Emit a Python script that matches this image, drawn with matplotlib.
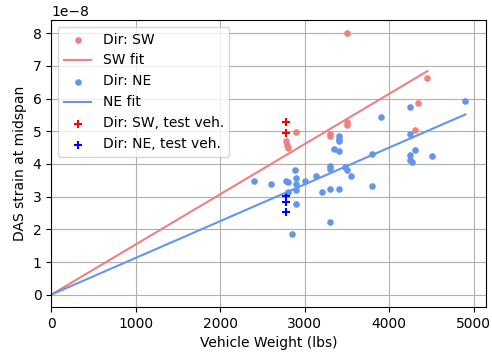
import numpy as np
import matplotlib
matplotlib.use("Agg")
import matplotlib.pyplot as plt

# ---------------------------------------------------------------------------
# Data (weights in lbs, strain in units of 1e-8)
# ---------------------------------------------------------------------------
sw_weight = [2900, 2780, 2790, 2800, 3300, 3300, 3500, 3500, 3500, 4340, 4450, 4300]
sw_strain = [4.99, 4.70, 4.58, 4.50, 4.93, 4.86, 5.29, 5.19, 8.00, 5.87, 6.62, 5.04]

ne_weight = [2400, 2600, 2775, 2800, 2800, 2850, 2890, 2900, 2900, 2900, 2900,
             3000, 3130, 3200, 3300, 3300, 3300, 3300, 3340, 3400, 3400, 3400,
             3400, 3400, 3480, 3500, 3550, 3800, 3800, 3900, 4250, 4250, 4300,
             4250, 4250, 4270, 4500, 4900]
ne_strain = [3.49, 3.39, 3.49, 3.46, 3.15, 1.85, 3.82, 3.56, 3.39, 3.21, 2.77,
             3.49, 3.64, 3.15, 3.94, 3.85, 3.23, 2.21, 4.46, 4.40, 4.86, 4.77,
             4.70, 3.22, 3.91, 3.82, 3.63, 4.31, 3.33, 5.44, 5.74, 4.91, 4.43,
             4.27, 4.11, 4.05, 4.23, 5.92]

sw_test_weight = [2780, 2780]
sw_test_strain = [5.28, 4.94]
ne_test_weight = [2780, 2780, 2780]
ne_test_strain = [3.03, 2.85, 2.54]

# ---------------------------------------------------------------------------
# Fits through the origin (least squares)
# ---------------------------------------------------------------------------
def fit_origin(x, y):
    x = np.asarray(x, float)
    y = np.asarray(y, float) * 1e-8
    return np.sum(x * y) / np.sum(x * x)

sw_slope = fit_origin(sw_weight, sw_strain)
ne_slope = fit_origin(ne_weight, ne_strain)
sw_x = np.array([0, max(sw_weight)])
ne_x = np.array([0, max(ne_weight)])

# ---------------------------------------------------------------------------
# Plot
# ---------------------------------------------------------------------------
fig, ax = plt.subplots(figsize=(4.92, 3.58), dpi=100)
fig.subplots_adjust(left=0.104, right=0.988, top=0.944, bottom=0.143)

sw_c = "#f08080"
ne_c = "#6495ed"

ax.scatter(sw_weight, np.array(sw_strain) * 1e-8, s=14, color=sw_c, label="Dir: SW")
ax.plot(sw_x, sw_slope * sw_x, color=sw_c, label="SW fit")
ax.scatter(ne_weight, np.array(ne_strain) * 1e-8, s=14, color=ne_c, label="Dir: NE")
ax.plot(ne_x, ne_slope * ne_x, color=ne_c, label="NE fit")
ax.scatter(sw_test_weight, np.array(sw_test_strain) * 1e-8, marker="+", s=36,
           color="red", label="Dir: SW, test veh.")
ax.scatter(ne_test_weight, np.array(ne_test_strain) * 1e-8, marker="+", s=36,
           color="blue", label="Dir: NE, test veh.")

ax.set_xlim(0, 5145)
ax.set_ylim(-0.37e-8, 8.4e-8)
ax.set_xlabel("Vehicle Weight (lbs)")
ax.set_ylabel("DAS strain at midspan")
ax.grid(True)
ax.set_axisbelow(True)
ax.legend(loc="upper left")

fig.savefig("out.png", dpi=100)
plt.close(fig)
